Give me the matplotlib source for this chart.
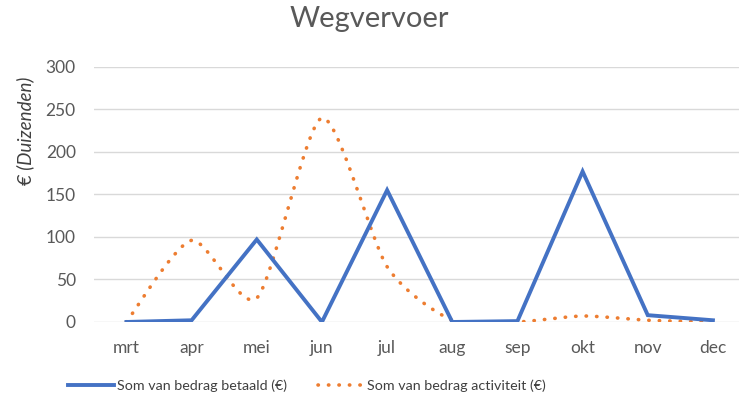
import matplotlib.pyplot as plt
import numpy as np

months = ['mrt', 'apr', 'mei', 'jun', 'jul', 'aug', 'sep', 'okt', 'nov', 'dec']
betaald = [0, 2, 97, 0, 155, 0, 1, 177, 8, 2]
activiteit = [0, 96, 28, 240, 65, 2, 0, 7, 2, 0]

plt.rcParams['font.family'] = ['Lato', 'DejaVu Sans']


def smooth(x, y, k=0.12, n=30):
    # bezier smoothing through the points, close to Excel's "smoothed line"
    x = np.asarray(x, float)
    y = np.asarray(y, float)
    px = np.concatenate([[x[0]], x, [x[-1]]])
    py = np.concatenate([[y[0]], y, [y[-1]]])
    xs, ys = [], []
    for i in range(1, len(px) - 2):
        p0, p1, p2, p3 = [np.array([px[j], py[j]]) for j in (i - 1, i, i + 1, i + 2)]
        c1 = p1 + (p2 - p0) * k
        c2 = p2 - (p3 - p1) * k
        t = np.linspace(0, 1, n)[:, None]
        b = (1 - t) ** 3 * p1 + 3 * (1 - t) ** 2 * t * c1 + 3 * (1 - t) * t ** 2 * c2 + t ** 3 * p2
        xs.extend(b[:, 0])
        ys.extend(b[:, 1])
    return np.array(xs), np.array(ys)


fig = plt.figure(figsize=(7.39, 4.05), dpi=100)
ax = fig.add_axes([0.127, 0.205, 0.873, 0.63])

x = np.arange(len(months))
ax.plot(x, betaald, color='#4472C4', linewidth=2.8, solid_joinstyle='miter',
        label='Som van bedrag betaald (€)', zorder=3)
sx, sy = smooth(x, activiteit)
ax.plot(sx, sy, color='#ED7D31', linewidth=2.6, linestyle=(0, (0.1, 2.8)),
        dash_capstyle='round', label='Som van bedrag activiteit (€)', zorder=2)

ax.set_xlim(-0.5, 9.4)
ax.set_ylim(0, 300)
ax.set_yticks(range(0, 301, 50))
ax.set_xticks(x)
ax.set_xticklabels(months)
ax.grid(axis='y', color='#D9D9D9', linewidth=1)
ax.set_axisbelow(True)
for s in ax.spines.values():
    s.set_visible(False)
ax.tick_params(length=0, colors='#595959', labelsize=12.5)
ax.tick_params(axis='x', pad=13)
ax.tick_params(axis='y', pad=13)

ax.set_ylabel('€ (Duizenden)', fontstyle='italic', fontsize=13.5, color='#404040')
ax.yaxis.set_label_coords(-0.092, 0.75)
fig.suptitle('Wegvervoer', fontsize=21, color='#595959', y=0.985)

leg = fig.legend(loc='lower left', ncol=2, frameon=False, fontsize=10.3,
                 bbox_to_anchor=(0.075, 0.0), handlelength=3.2, columnspacing=2.2,
                 handletextpad=0.2, labelcolor='#404040')

fig.savefig('out.png', dpi=100)
